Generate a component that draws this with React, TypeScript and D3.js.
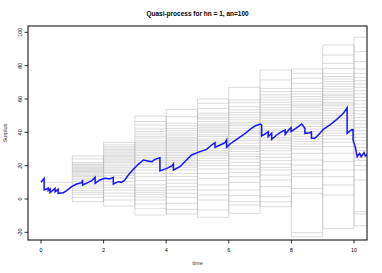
import React from "react";
import * as d3 from "d3";

const WIDTH = 382;
const HEIGHT = 273;
const margin = { top: 26, right: 15, bottom: 33, left: 28 };

const xTicks = [0, 2, 4, 6, 8, 10];
const yTicks = [-20, 0, 20, 40, 60, 80, 100];

// simulated surplus levels, one list per unit time interval
const block0 = [10];
const block1 = [25.8, 24, 22, 21, 20.5, 19.8, 19, 18.4, 17.8, 17, 16.5, 15.8, 15, 14.2, 13.5, 12.5, 11.5, 10.4, 9, 7.8, 6.6, 5, 4, 2.8, 1, -1.6];
const block2 = [34, 32.5, 31.4, 30.5, 29.6, 28.8, 28, 27, 26.2, 25.4, 24.6, 23.6, 22.8, 22, 21, 20, 19, 18, 17, 16, 15.4, 14, 12.6, 10.5, 8.4, 7, 5.4, 3.5, 1.8, -0.6, -4.2];
const block3 = [49.8, 46.5, 44.4, 42, 40.4, 39, 37.6, 36.5, 35, 34, 33, 32, 31, 30, 29, 28, 27, 26, 25, 24, 23, 22, 20.5, 19, 17.4, 15.5, 13.4, 11, 8.5, 6.6, 5.2, 4, 2.6, 1.2, -0.6, -3, -5.6, -9.6];
const block4 = [53.8, 49.4, 45.4, 44, 42.4, 41, 39.6, 38.4, 37, 36, 35, 34, 33, 32, 31, 30, 29, 28, 27, 26, 25, 24, 23, 22, 21, 20, 19, 17.5, 15.4, 13.5, 11.4, 9.5, 7.4, 5.5, 3.4, 1, -2.6, -6.2, -9];
const block5 = [60, 57.4, 54.4, 51.5, 50.4, 49, 48, 46.5, 45, 44, 43, 42, 41, 40, 38.5, 37.5, 36, 35, 34, 33, 32, 30.5, 29, 28, 27, 26, 24.5, 23, 21.5, 20, 18, 15.4, 12.4, 8.4, 5.4, 2.5, -0.6, -6.6, -11];
const block6 = [67, 59.4, 57.8, 55.4, 53.5, 52, 50.5, 49, 47.5, 46, 45, 44, 42.5, 41, 40, 39, 37.5, 36, 35, 33.5, 32, 31, 30, 28.5, 27, 25.5, 24, 22, 20, 18, 16, 13.4, 10, 5.4, 2, -1.6, -3.6, -8.6];
const block7 = [77.4, 71.4, 66.4, 64.4, 62.5, 61, 59.5, 58, 56.5, 55, 53.5, 52, 51, 50, 48.5, 47, 46, 45, 43.5, 42, 41, 40, 38.5, 37, 36, 35, 33.5, 32, 30.5, 29, 27, 25, 23, 21, 19, 17.4, 14.4, 11.4, 7.4, 1.4, -1.6, -4.6];
const block8 = [78, 75.4, 72.4, 69.4, 66.4, 64.5, 63, 61.5, 60, 58.5, 57, 56, 55, 53.5, 52, 51, 50, 48.5, 47, 46, 45, 43.5, 42, 40.5, 39, 37.5, 36, 34.5, 33, 31.5, 30, 27.4, 23.4, 20.4, 17.4, 15.4, 13.4, 6.4, 3.4, -20.2, -22.6];
const block9 = [92.4, 86.4, 81.4, 78.4, 75.4, 73.5, 72, 70.5, 69, 67.5, 66, 64.5, 63, 62, 61, 59.5, 58, 57, 56, 54.5, 53, 51.5, 50, 48.5, 47, 45.5, 44, 42.5, 41, 39.5, 38, 36, 34, 31.4, 27.4, 22.4, 17.4, 13.4, 8.4, 2.4, -17.6];
const block10 = [97, 88.4, 82.4, 78, 75.4, 73, 71, 69, 67, 65, 63, 61, 59, 57, 55, 53, 51, 49, 47, 45, 43, 41, 39, 37, 35, 33, 31, 29, 27, 25, 23, 20, 17.4, 11.4, -7.6, -9, -16];
const blocks = [block0, block1, block2, block3, block4, block5, block6, block7, block8, block9, block10];

// observed path (jumps down at claims)
const pathTime = [0, 0.1, 0.1, 0.18, 0.23, 0.23, 0.29, 0.29, 0.45, 0.45, 0.55, 0.55, 0.71, 0.82, 0.98, 1.14, 1.3, 1.33, 1.33, 1.51, 1.62, 1.73, 1.73, 1.88, 2.04, 2.2, 2.31, 2.31, 2.47, 2.57, 2.68, 2.79, 2.95, 3.11, 3.27, 3.38, 3.54, 3.64, 3.8, 3.8, 4.02, 4.18, 4.23, 4.23, 4.44, 4.65, 4.81, 5.08, 5.29, 5.45, 5.56, 5.56, 5.72, 5.88, 5.93, 5.93, 6.04, 6.25, 6.46, 6.68, 6.84, 7.0, 7.05, 7.05, 7.19, 7.26, 7.26, 7.37, 7.37, 7.53, 7.69, 7.8, 7.8, 7.96, 7.99, 7.99, 8.22, 8.33, 8.43, 8.43, 8.59, 8.64, 8.64, 8.75, 8.86, 9.02, 9.23, 9.45, 9.66, 9.78, 9.78, 9.91, 9.97, 9.97, 10.05, 10.1, 10.18, 10.23, 10.32, 10.36, 10.42];
const pathValue = [10, 12.4, 5.4, 6.0, 6.6, 5.0, 6.0, 3.8, 6.4, 4.4, 5.8, 3.4, 3.8, 5.0, 7.4, 9.0, 9.8, 11.4, 8.4, 10.0, 11.0, 13.0, 9.4, 11.4, 12.4, 12.0, 13.0, 9.0, 10.4, 10.0, 11.4, 14.4, 17.8, 20.8, 23.4, 23.0, 22.4, 23.8, 24.8, 16.8, 18.4, 19.8, 21.0, 17.4, 19.4, 23.4, 26.4, 28.4, 29.8, 32.4, 33.8, 31.0, 32.4, 33.8, 35.4, 31.0, 33.0, 35.8, 38.4, 41.8, 43.8, 45.0, 44.4, 37.8, 39.4, 40.4, 37.4, 39.4, 35.8, 38.4, 40.4, 41.4, 38.8, 42.4, 42.8, 40.4, 43.4, 45.0, 42.4, 39.4, 39.8, 40.2, 36.4, 36.4, 38.4, 41.8, 44.4, 47.8, 51.4, 54.8, 39.4, 41.4, 41.6, 35.4, 30.4, 25.4, 27.4, 25.4, 27.8, 25.8, 26.4];

export default function App() {
  const x = d3
    .scaleLinear()
    .domain([-0.415, 10.415])
    .range([margin.left, WIDTH - margin.right]);
  const y = d3
    .scaleLinear()
    .domain([-24.6, 103.8])
    .range([HEIGHT - margin.bottom, margin.top]);

  const line = d3
    .line<number>()
    .x((d, i) => x(pathTime[i]))
    .y((d) => y(d));

  const font = "Liberation Sans, Arial, Helvetica, sans-serif";
  const grey = "#9a9a9a";

  return (
    <svg
      width={WIDTH}
      height={HEIGHT}
      style={{ position: "absolute", left: 0, top: 0, background: "#fff" }}
      fontFamily={font}
    >
      <defs>
        <clipPath id="plotArea">
          <rect
            x={margin.left}
            y={margin.top}
            width={WIDTH - margin.left - margin.right}
            height={HEIGHT - margin.top - margin.bottom}
          />
        </clipPath>
      </defs>

      <g clipPath="url(#plotArea)">
        {blocks.map((vals, k) => {
          const lo = d3.min(vals) as number;
          const hi = d3.max(vals) as number;
          return (
            <g key={k} stroke={grey} strokeOpacity={0.36} strokeWidth={1} fill="none">
              {vals.map((v, j) => (
                <line key={j} x1={x(k)} x2={x(k + 1)} y1={y(v)} y2={y(v)} />
              ))}
              {k > 0 && <line x1={x(k)} x2={x(k)} y1={y(lo)} y2={y(hi)} />}
              {k > 0 && <line x1={x(k + 1)} x2={x(k + 1)} y1={y(lo)} y2={y(hi)} />}
            </g>
          );
        })}

        <path d={line(pathValue) || ""} fill="none" stroke="#1414ff" strokeWidth={1.5} />
      </g>

      <rect
        x={margin.left}
        y={margin.top}
        width={WIDTH - margin.left - margin.right}
        height={HEIGHT - margin.top - margin.bottom}
        fill="none"
        stroke="#000"
        strokeWidth={1}
      />

      {xTicks.map((t) => (
        <g key={t} transform={`translate(${x(t)}, ${HEIGHT - margin.bottom})`}>
          <line y1={0} y2={3.5} stroke="#000" strokeWidth={0.8} />
          <text y={12} textAnchor="middle" fontSize={5.5}>
            {t}
          </text>
        </g>
      ))}

      {yTicks.map((t) => (
        <g key={t} transform={`translate(${margin.left}, ${y(t)})`}>
          <line x1={0} x2={-3.5} stroke="#000" strokeWidth={0.8} />
          <text transform="translate(-6, 0) rotate(-90)" textAnchor="middle" fontSize={5.5}>
            {t}
          </text>
        </g>
      ))}

      <text x={197.5} y={15.5} textAnchor="middle" fontSize={6.5} fontWeight="bold">
        Quasi-process for hn = 1, an=100
      </text>
      <text x={197.5} y={264.5} textAnchor="middle" fontSize={5.5} fill="#333">
        time
      </text>
      <text
        transform="translate(7, 133) rotate(-90)"
        textAnchor="middle"
        fontSize={5.5}
        fill="#333"
      >
        Surplus
      </text>
    </svg>
  );
}
